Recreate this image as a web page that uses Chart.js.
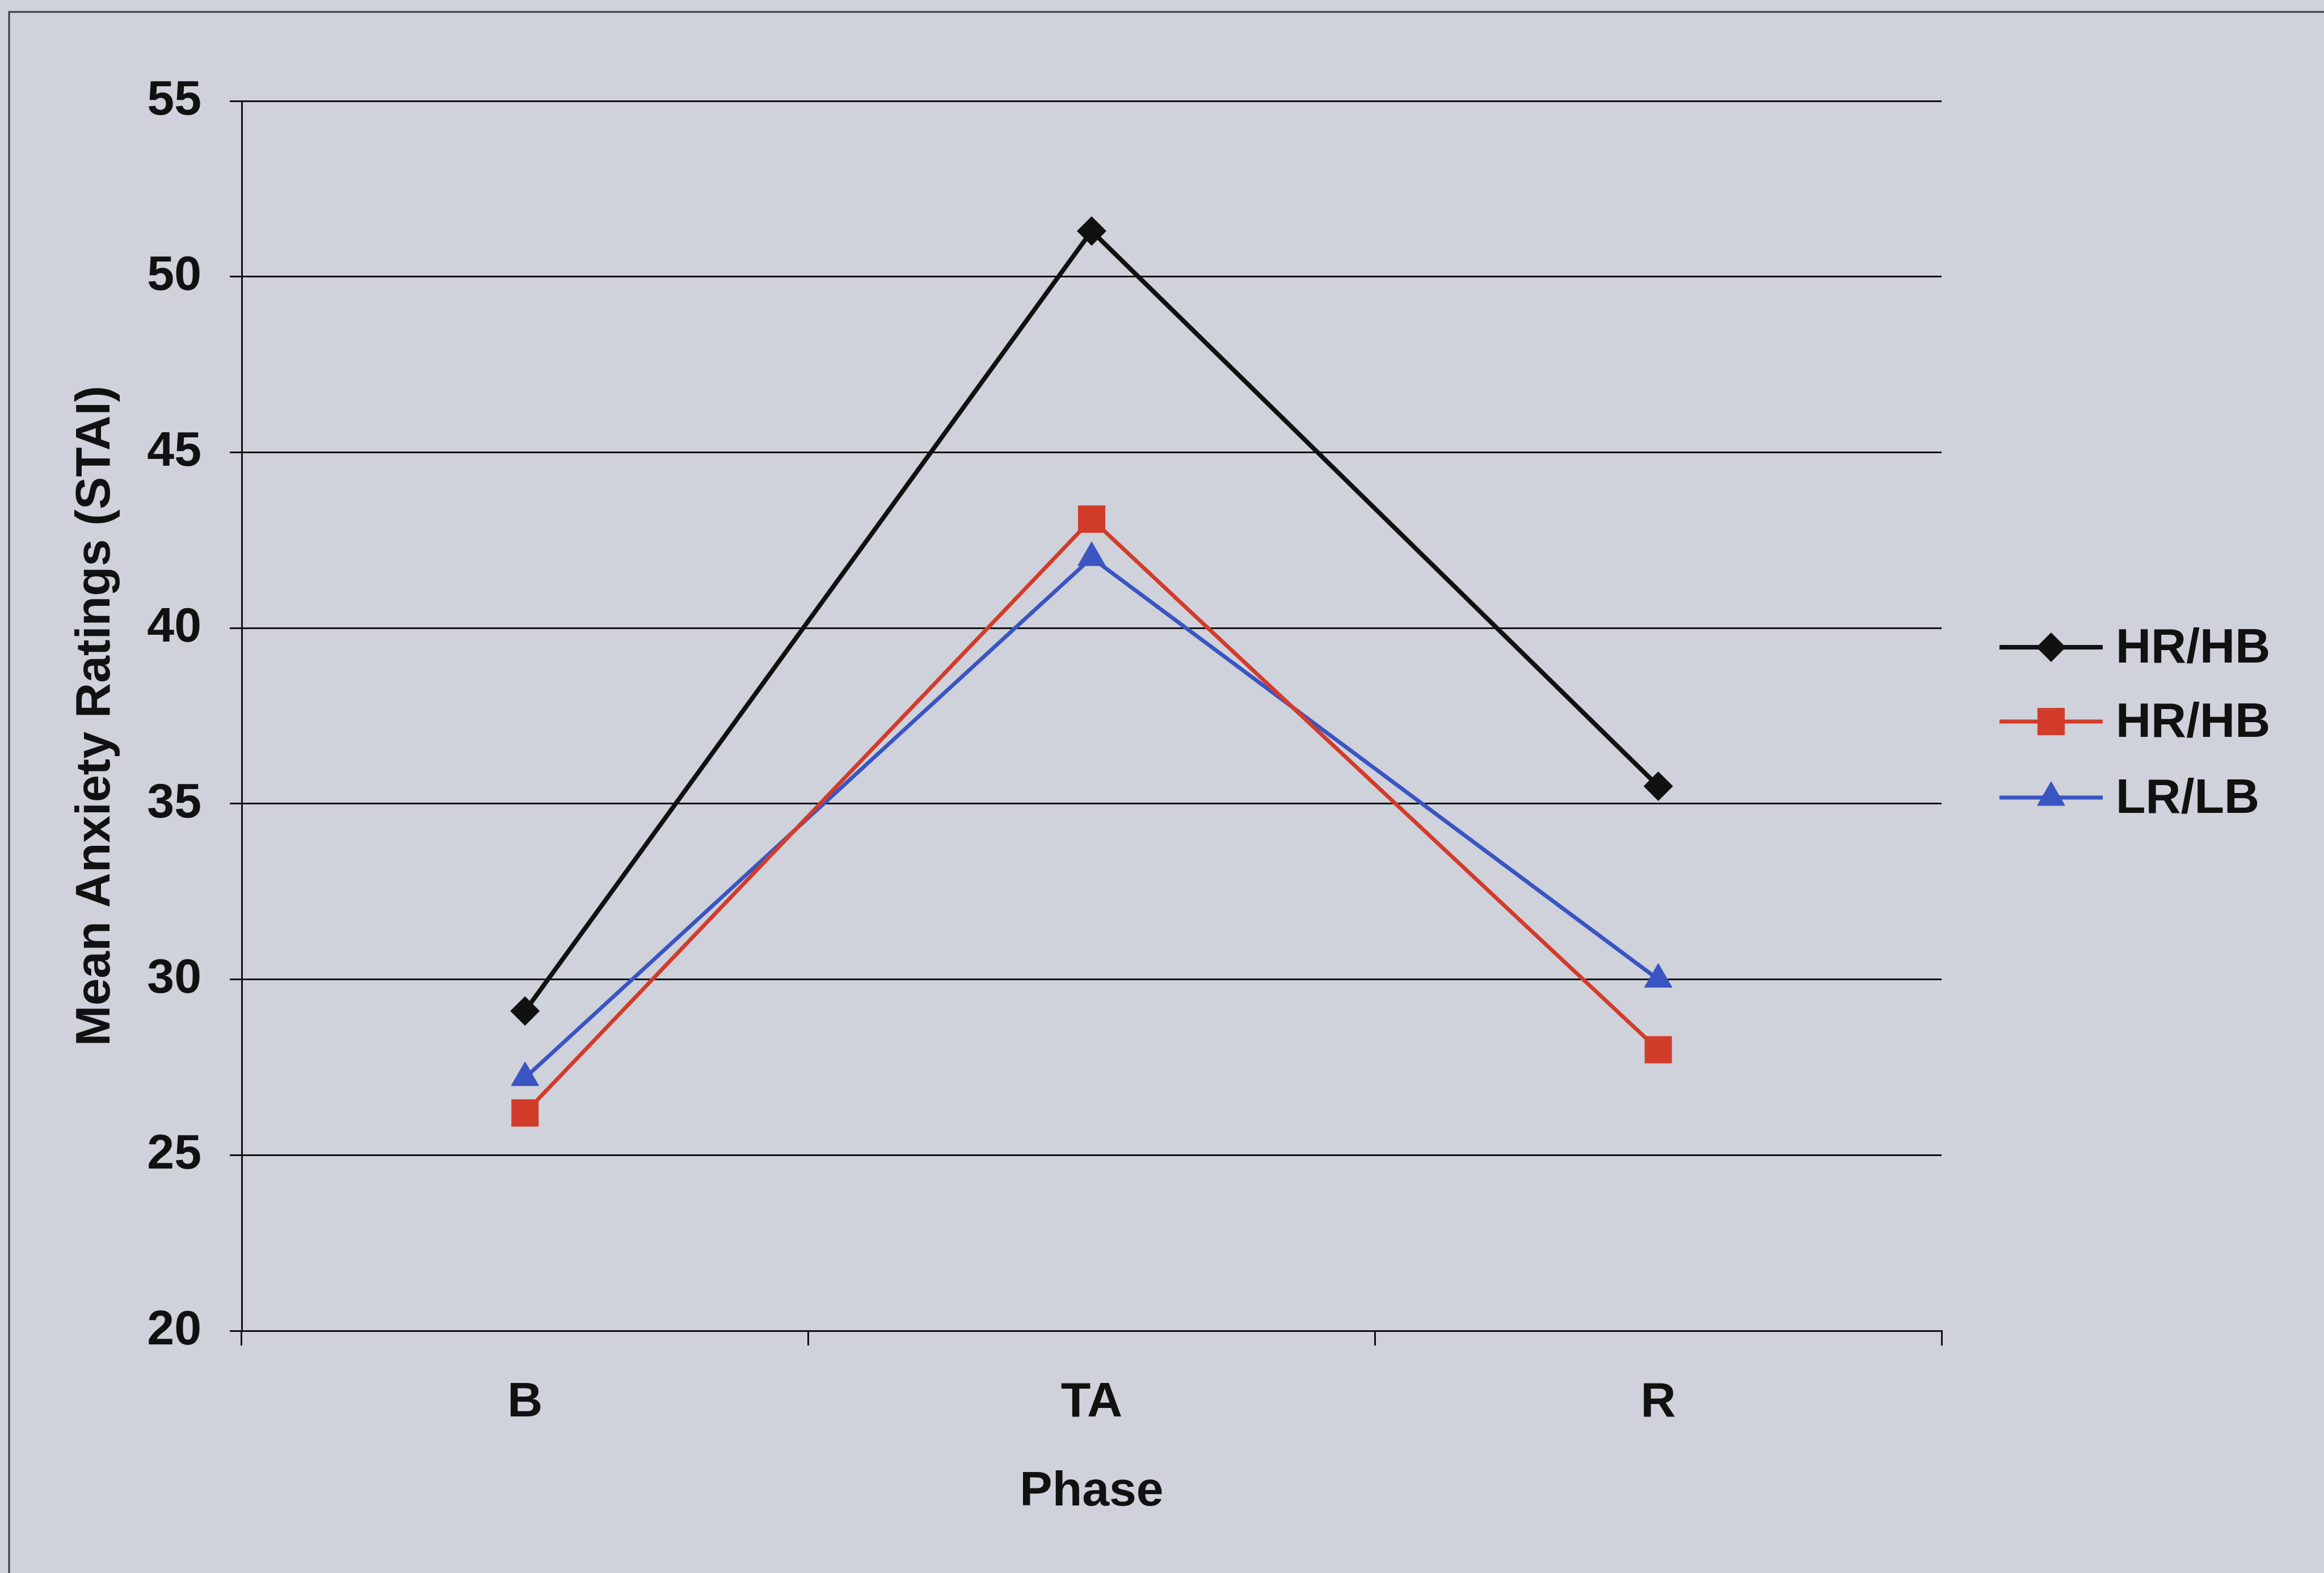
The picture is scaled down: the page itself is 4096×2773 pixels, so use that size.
<!DOCTYPE html>
<html>
<head>
<meta charset="utf-8">
<script src="https://cdn.jsdelivr.net/npm/chart.js@4.4.0/dist/chart.umd.min.js"></script>
<style>
  html, body { margin: 0; padding: 0; background: #cfd1db; }
  canvas { display: block; }
</style>
</head>
<body>
<canvas id="myChart" width="4096" height="2773"></canvas>
<script>
const phases = ["B", "TA", "R"];
const seriesNames = ["HR/HB", "HR/HB", "LR/LB"];
const hrhbBlack = [29.1, 51.3, 35.5];
const hrhbRed = [26.2, 43.1, 28.0];
const lrlb = [27.2, 42.0, 30.0];
const yTicks = [20, 25, 30, 35, 40, 45, 50, 55];

const lineColors = ['#111111', '#d23c2a', '#3a55c2'];
const markers = ['rectRot', 'rect', 'triangle'];
const markerSizes = [26, 34, 29];
const lineWidths = [8, 7, 7];
const FONT = "'Liberation Sans', Arial, sans-serif";

function makeSet(i, values) {
  return {
    label: seriesNames[i],
    data: values,
    borderColor: lineColors[i],
    backgroundColor: lineColors[i],
    borderWidth: lineWidths[i],
    pointStyle: markers[i],
    pointRadius: markerSizes[i],
    pointHoverRadius: markerSizes[i],
    pointBorderWidth: 0,
    tension: 0
  };
}

const data = {
  labels: phases,
  datasets: [makeSet(0, hrhbBlack), makeSet(1, hrhbRed), makeSet(2, lrlb)]
};

// frame + background
const paper = {
  id: 'paper',
  beforeDraw(chart) {
    const ctx = chart.ctx;
    ctx.save();
    ctx.fillStyle = '#cfd1db';
    ctx.fillRect(0, 0, chart.width, chart.height);
    ctx.strokeStyle = '#3a3a48';
    ctx.lineWidth = 3;
    ctx.strokeRect(16, 21, chart.width + 50, chart.height + 50);
    ctx.restore();
  }
};

// legend with line + marker like the original
const sideLegend = {
  id: 'sideLegend',
  afterDraw(chart) {
    const ctx = chart.ctx;
    const rows = [1141, 1272, 1406];
    ctx.save();
    chart.data.datasets.forEach((ds, i) => {
      let y = rows[i];
      ctx.strokeStyle = ds.borderColor;
      ctx.lineWidth = ds.borderWidth;
      ctx.beginPath();
      ctx.moveTo(3524, y);
      ctx.lineTo(3706, y);
      ctx.stroke();
      ctx.fillStyle = ds.backgroundColor;
      Chart.helpers.drawPoint(ctx, {pointStyle: ds.pointStyle, radius: ds.pointRadius, rotation: 0, borderWidth: 0}, 3615, y);
      ctx.fillStyle = '#111';
      ctx.font = 'bold 86px ' + FONT;
      ctx.textBaseline = 'middle';
      ctx.textAlign = 'left';
      ctx.fillText(ds.label, 3729, y + 3);
    });
    ctx.restore();
  }
};

const config = {
  type: 'line',
  data: data,
  options: {
    responsive: false,
    devicePixelRatio: 1,
    animation: false,
    layout: { padding: { top: 178, right: 674, bottom: 0, left: 0 } },
    plugins: {
      legend: { display: false },
      tooltip: { enabled: false },
      title: { display: false }
    },
    scales: {
      x: {
        offset: true,
        afterFit(scale) { scale.height = 427; },
        grid: {
          offset: true,
          drawOnChartArea: false,
          drawTicks: true,
          tickLength: 26,
          color: '#111',
          lineWidth: 3
        },
        border: { display: true, color: '#111', width: 3 },
        ticks: {
          color: '#111',
          padding: 50,
          font: { family: FONT, size: 86, weight: 'bold' }
        },
        title: {
          display: true,
          text: 'Phase',
          color: '#111',
          padding: { top: 0, bottom: 91 },
          font: { family: FONT, size: 86, weight: 'bold' }
        }
      },
      y: {
        min: yTicks[0],
        max: yTicks[yTicks.length - 1],
        afterFit(scale) { scale.width = 426; },
        afterBuildTicks(scale) { scale.ticks = yTicks.map(v => ({ value: v })); },
        grid: {
          color: '#111',
          lineWidth: 3,
          drawTicks: true,
          tickLength: 21
        },
        border: { display: true, color: '#111', width: 3 },
        ticks: {
          color: '#111',
          padding: 50,
          font: { family: FONT, size: 86, weight: 'bold' }
        },
        title: {
          display: true,
          text: 'Mean Anxiety Ratings (STAI)',
          color: '#111',
          padding: { top: 118, bottom: 0 },
          font: { family: FONT, size: 86, weight: 'bold' }
        }
      }
    }
  },
  plugins: [paper, sideLegend]
};

const myChart = new Chart(document.getElementById('myChart'), config);
</script>
</body>
</html>
